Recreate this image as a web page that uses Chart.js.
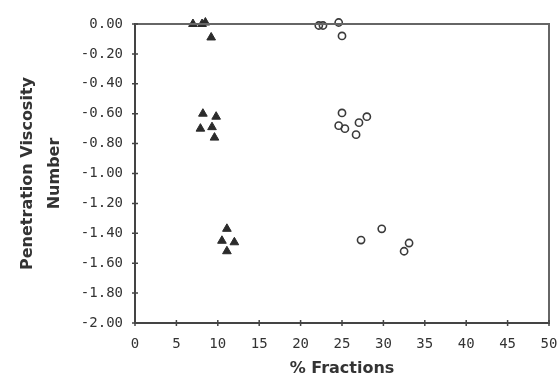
<!DOCTYPE html>
<html>
<head>
<meta charset="utf-8">
<script src="https://cdn.jsdelivr.net/npm/chart.js@4"></script>
<style>
html,body{margin:0;padding:0;background:#fff;}
</style>
</head>
<body>
<canvas id="c" width="559" height="377"></canvas>
<script>
const xTitle = '% Fractions';
const yTitle = ['Penetration Viscosity', 'Number'];
const xMin = 0, xMax = 50, xStep = 5;
const yMin = -2, yMax = 0, yStep = 0.2;

const triangleX = [7.0, 8.1, 8.5, 9.2, 8.2, 9.8, 7.9, 9.3, 9.6, 11.1, 10.5, 12.0, 11.1];
const triangleY = [0.0, 0.0, 0.01, -0.09, -0.60, -0.62, -0.70, -0.69, -0.76, -1.37, -1.45, -1.46, -1.52];

const circleX = [22.2, 22.7, 24.6, 25.0, 25.0, 24.6, 25.35, 27.05, 28.0, 26.7, 27.3, 29.8, 33.1, 32.5];
const circleY = [-0.01, -0.01, 0.01, -0.08, -0.595, -0.68, -0.70, -0.66, -0.62, -0.74, -1.445, -1.37, -1.465, -1.52];

const toPts = (xs, ys) => xs.map((x, i) => ({x: x, y: ys[i]}));

const AXIS = '#444';
const TEXT = '#333';

const framePlugin = {
  id: 'frame',
  afterDraw(chart) {
    const {ctx, chartArea: a, scales} = chart;
    ctx.save();
    ctx.strokeStyle = '#666';
    ctx.lineWidth = 2;
    ctx.beginPath();
    ctx.moveTo(a.left, a.top); ctx.lineTo(a.right, a.top);
    ctx.lineTo(a.right, a.bottom);
    ctx.stroke();
    ctx.strokeStyle = AXIS;
    ctx.lineWidth = 1.5;
    ctx.beginPath();
    scales.y.ticks.forEach(t => {
      const py = scales.y.getPixelForValue(t.value);
      ctx.moveTo(a.left - 3, py); ctx.lineTo(a.left + 3, py);
    });
    scales.x.ticks.forEach(t => {
      const px = scales.x.getPixelForValue(t.value);
      ctx.moveTo(px, a.bottom - 3); ctx.lineTo(px, a.bottom + 3);
    });
    ctx.stroke();
    ctx.restore();
  }
};

new Chart(document.getElementById('c'), {
  type: 'scatter',
  data: {
    datasets: [
      {
        label: 'triangles',
        data: toPts(triangleX, triangleY),
        pointStyle: 'triangle',
        pointRadius: 5,
        backgroundColor: '#2b2b2b',
        borderColor: '#2b2b2b',
        borderWidth: 1,
        clip: false
      },
      {
        label: 'circles',
        data: toPts(circleX, circleY),
        pointStyle: 'circle',
        pointRadius: 3.6,
        backgroundColor: 'rgba(255,255,255,0)',
        borderColor: '#3a3a3a',
        borderWidth: 1.6,
        clip: false
      }
    ]
  },
  options: {
    responsive: false,
    animation: false,
    layout: {padding: {top: 24, right: 0, left: 0, bottom: 0}},
    plugins: {legend: {display: false}, tooltip: {enabled: false}},
    scales: {
      x: {
        type: 'linear',
        min: xMin, max: xMax,
        afterFit(s) { s.height = 54; s.paddingRight = 10; },
        ticks: {stepSize: xStep, color: TEXT, padding: 13, font: {family: 'DejaVu Sans Mono', size: 14}, maxRotation: 0},
        grid: {drawOnChartArea: false, drawTicks: false},
        border: {display: true, color: AXIS, width: 2},
        title: {display: true, text: xTitle, color: TEXT, padding: {top: 0, bottom: 0}, font: {family: 'DejaVu Sans', size: 16, weight: 'bold', lineHeight: 1}}
      },
      y: {
        type: 'linear',
        min: yMin, max: yMax,
        afterFit(s) { s.width = 135; },
        ticks: {stepSize: yStep, color: TEXT, padding: 12, font: {family: 'DejaVu Sans Mono', size: 14},
          callback: v => (Math.abs(v) < 1e-9 ? 0 : v).toFixed(2)},
        grid: {drawOnChartArea: false, drawTicks: false},
        border: {display: true, color: AXIS, width: 2},
        title: {display: true, text: yTitle, color: TEXT, padding: {top: 14, bottom: 0}, font: {family: 'DejaVu Sans', size: 16, weight: 'bold', lineHeight: 1.7}}
      }
    }
  },
  plugins: [framePlugin]
});
</script>
</body>
</html>
